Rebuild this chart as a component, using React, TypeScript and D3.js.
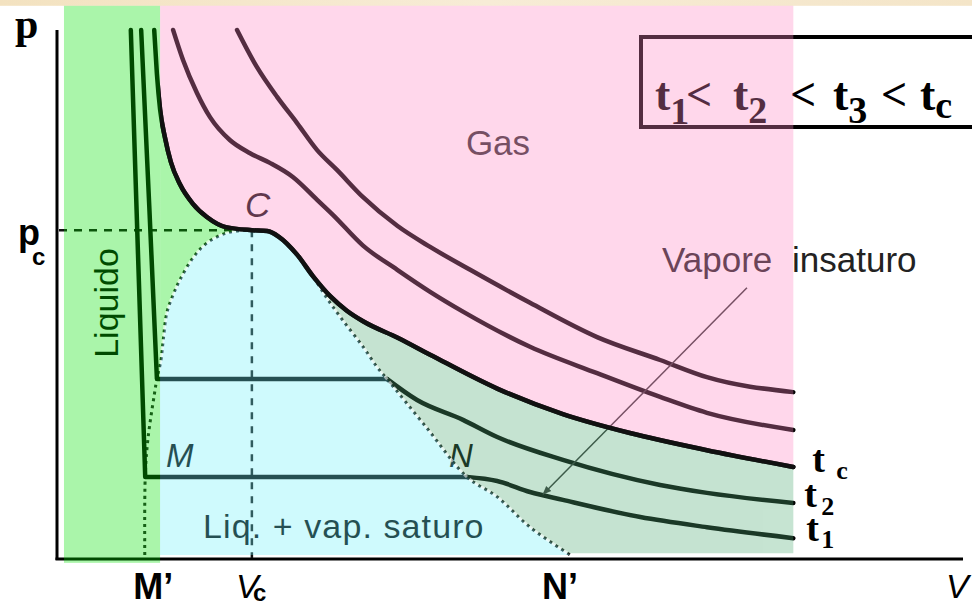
import React from "react";
import * as d3 from "d3";

type Pt = [number, number];

// Andrews isotherms on the p–V plane (v: volume, p: pressure, arbitrary units)
const t1Liquid: Pt[] = [[1.64, 12.0], [1.8, 6.9], [1.96, 1.84]];
const t1Plateau: Pt[] = [[1.96, 1.84], [9.11, 1.84]];
const t1Vapor: Pt[] = [[9.11, 1.84], [9.78, 1.75], [10.51, 1.5], [11.24, 1.32], [12.96, 0.93], [14.44, 0.7], [16.36, 0.45]];

const t2Liquid: Pt[] = [[1.87, 12.0], [2.05, 8.0], [2.22, 4.07]];
const t2Plateau: Pt[] = [[2.22, 4.07], [7.33, 4.07]];
const t2Vapor: Pt[] = [[7.33, 4.07], [8.0, 3.59], [9.02, 3.14], [9.78, 2.75], [11.24, 2.23], [13.4, 1.66], [14.44, 1.48], [16.36, 1.25]];

const tcCurve: Pt[] = [
  [2.16, 12.0], [2.22, 11.0], [2.29, 10.2], [2.4, 9.55], [2.53, 9.0], [2.73, 8.5], [3.02, 8.05],
  [3.33, 7.75], [3.75, 7.52], [4.33, 7.45], [4.67, 7.43], [4.93, 7.3], [5.33, 6.9], [5.69, 6.4],
  [6.07, 5.95], [6.44, 5.62], [6.8, 5.38], [7.58, 5.0], [8.29, 4.62], [9.78, 3.85], [11.24, 3.27],
  [12.73, 2.84], [14.44, 2.45], [16.36, 2.07],
];

const t3Curve: Pt[] = [
  [2.58, 12.0], [2.8, 11.32], [3.11, 10.57], [3.4, 10.02], [3.84, 9.5], [4.29, 9.2], [4.73, 8.98],
  [5.24, 8.66], [5.78, 8.14], [6.13, 7.8], [6.8, 7.1], [7.56, 6.55], [8.29, 6.05], [9.02, 5.6],
  [10.51, 4.8], [12.0, 4.2], [13.4, 3.66], [14.44, 3.3], [16.36, 2.91],
];

const t4Curve: Pt[] = [
  [4.0, 12.0], [4.44, 11.16], [4.89, 10.48], [5.33, 9.89], [5.78, 9.27], [6.22, 8.82], [6.8, 8.2],
  [7.56, 7.55], [8.29, 7.07], [9.18, 6.55], [10.51, 5.8], [12.0, 5.02], [13.4, 4.5], [14.44, 4.11],
  [16.36, 3.77],
];

// saturation dome: liquid branch (bottom → C) and vapour branch (C → bottom)
const domeLeft: Pt[] = [
  [1.95, 0.07], [1.96, 1.84], [2.02, 2.7], [2.16, 3.7], [2.22, 4.07], [2.31, 4.5], [2.36, 4.95],
  [2.44, 5.57], [2.58, 5.98], [2.73, 6.32], [3.02, 6.82], [3.33, 7.16], [3.78, 7.39],
];
const criticalPoint: Pt = [4.33, 7.45];
const domeRight: Pt[] = [
  [4.67, 7.43], [4.93, 7.3], [5.33, 6.9], [5.69, 6.4], [6.0, 5.9], [6.35, 5.4], [6.8, 4.8],
  [7.11, 4.34], [7.33, 4.07], [8.22, 2.95], [9.11, 1.84], [9.78, 1.39], [10.51, 0.7], [11.4, 0.07],
];

// region limits
const LIQ_LEFT = 0.155;
const LIQ_RIGHT = 2.29;
const TOP_P = 12.55;
const FLOOR_P = 0.07;
const GAS_FLOOR_P = 0.11;

const arrowFrom: Pt = [15.33, 6.14];
const arrowTo: Pt = [10.8, 1.45];

const W = 972;
const H = 608;
const SANS = "'Liberation Sans', Arial, Helvetica, sans-serif";
const SERIF = "'Liberation Serif', 'Times New Roman', Times, serif";

export default function App() {
  const x = d3.scaleLinear().domain([0, 20.13]).range([57, 963]);
  const y = d3.scaleLinear().domain([0, 12]).range([558, 30]);

  const straight = d3.line<Pt>().x((d) => x(d[0])).y((d) => y(d[1]));
  const smooth = d3.line<Pt>().x((d) => x(d[0])).y((d) => y(d[1])).curve(d3.curveMonotoneX);
  const domeGen = d3.line<Pt>().x((d) => x(d[0])).y((d) => y(d[1])).curve(d3.curveCatmullRom.alpha(0.5));

  const areaTop = d3
    .area<Pt>()
    .x((d) => x(d[0]))
    .y0(y(TOP_P))
    .y1((d) => y(d[1]))
    .curve(d3.curveMonotoneX);
  const areaBelow = (floor: number) =>
    d3
      .area<Pt>()
      .x((d) => x(d[0]))
      .y0((d) => y(d[1]))
      .y1(y(floor))
      .curve(d3.curveMonotoneX);

  const gasZone = areaTop(tcCurve.filter((d) => d[0] >= LIQ_RIGHT)) || "";
  const liquidWedge = areaBelow(FLOOR_P)(tcCurve.filter((d) => d[0] >= LIQ_RIGHT && d[0] <= criticalPoint[0])) || "";
  const vaporZone = areaBelow(GAS_FLOOR_P)(tcCurve.filter((d) => d[0] >= criticalPoint[0])) || "";
  const domePts: Pt[] = [...domeLeft, criticalPoint, ...domeRight];
  const domePath = domeGen(domePts) || "";

  const x0 = x(0);
  const y0 = y(0);
  const xc = x(criticalPoint[0]);
  const yc = y(criticalPoint[1]);

  const endLabel = (curve: Pt[]) => {
    const e = curve[curve.length - 1];
    return { ex: x(e[0]), ey: y(e[1]) };
  };
  const lc = endLabel(tcCurve);
  const l2 = endLabel(t2Vapor);
  const l1 = endLabel(t1Vapor);

  const iso = {
    fill: "none",
    stroke: "#000",
    strokeWidth: 4.5,
    strokeLinejoin: "round" as const,
    strokeLinecap: "round" as const,
  };

  return (
    <svg
      width={W}
      height={H}
      viewBox={`0 0 ${W} ${H}`}
      style={{ position: "fixed", left: 0, top: 0, display: "block", background: "#fff" }}
    >
      <defs>
        <clipPath id="rightOfLiquid">
          <rect x={x(LIQ_RIGHT)} y={0} width={W} height={H} />
        </clipPath>
        <marker id="arrowHead" viewBox="0 0 10 10" refX="9" refY="5" markerWidth="6" markerHeight="6" orient="auto">
          <path d="M0,1 L10,5 L0,9 z" fill="#333" />
        </marker>
        <linearGradient id="band" x1="0" x2="1" y1="0" y2="0">
          <stop offset="0" stopColor="#f3e2c0" />
          <stop offset="0.5" stopColor="#f7ecd6" />
          <stop offset="1" stopColor="#f4e5c8" />
        </linearGradient>
      </defs>

      <rect x={0} y={0} width={W} height={H} fill="#fff" />
      <rect x={0} y={0} width={W} height={y(TOP_P)} fill="url(#band)" />

      {/* axes */}
      <line x1={x0} y1={y(12)} x2={x0} y2={y0 + 2} stroke="#000" strokeWidth={3} />
      <line x1={x0 - 1.5} y1={y0 + 1} x2={x(20.13)} y2={y0 + 1} stroke="#000" strokeWidth={3} />

      {/* critical point guides */}
      <line x1={x0 + 2} y1={yc} x2={xc} y2={yc} stroke="#111" strokeWidth={2.5} strokeDasharray="8 7" />
      <line x1={xc} y1={yc} x2={xc} y2={y0} stroke="#111" strokeWidth={2.5} strokeDasharray="7 7" />

      {/* saturation dome */}
      <path d={domePath} fill="none" stroke="#222" strokeWidth={3} strokeDasharray="3 4" />

      {/* isotherms */}
      <path d={straight([...t1Liquid, ...t1Plateau.slice(1)]) || ""} {...iso} />
      <path d={smooth(t1Vapor) || ""} {...iso} />
      <path d={straight([...t2Liquid, ...t2Plateau.slice(1)]) || ""} {...iso} />
      <path d={smooth(t2Vapor) || ""} {...iso} />
      <path d={smooth(tcCurve) || ""} {...iso} />
      <path d={smooth(t3Curve) || ""} {...iso} />
      <path d={smooth(t4Curve) || ""} {...iso} />

      {/* arrow to the unsaturated vapour isotherm */}
      <line
        x1={x(arrowFrom[0])}
        y1={y(arrowFrom[1])}
        x2={x(arrowTo[0])}
        y2={y(arrowTo[1])}
        stroke="#333"
        strokeWidth={1.5}
        markerEnd="url(#arrowHead)"
      />

      {/* region names */}
      <text x={498} y={155} fontFamily={SANS} fontSize={35} fill="#333" textAnchor="middle">Gas</text>
      <text x={xc - 7} y={yc - 13} fontFamily={SANS} fontSize={35} fontStyle="italic" fill="#111">C</text>
      <text x={662} y={272} fontFamily={SANS} fontSize={35} fill="#222">Vapore</text>
      <text x={792} y={272} fontFamily={SANS} fontSize={35} fill="#222">insaturo</text>
      <text x={166} y={y(t1Plateau[0][1]) - 10} fontFamily={SANS} fontSize={33} fontStyle="italic" fill="#000">M</text>
      <text x={449} y={y(t1Plateau[0][1]) - 10} fontFamily={SANS} fontSize={33} fontStyle="italic" fill="#000">N</text>
      <text x={203} y={538} fontFamily={SANS} fontSize={34} letterSpacing={1.1} fill="#000">Liq. + vap. saturo</text>
      <text
        transform={`translate(118,303) rotate(-90)`}
        fontFamily={SANS}
        fontSize={34}
        fill="#000"
        textAnchor="middle"
      >
        Liquido
      </text>

      {/* temperature ordering box */}
      <rect x={641} y={37} width={400} height={90} fill="none" stroke="#000" strokeWidth={4} />
      <text fontFamily={SERIF} fontWeight="bold" fill="#000">
        <tspan x={655} y={110} fontSize={46}>t</tspan>
        <tspan y={124} fontSize={38}>1</tspan>
        <tspan x={686} y={110} fontSize={46}>&lt;</tspan>
        <tspan x={733} y={110} fontSize={46}>t</tspan>
        <tspan y={123} fontSize={38}>2</tspan>
        <tspan x={790} y={110} fontSize={46}>&lt;</tspan>
        <tspan x={833} y={110} fontSize={46}>t</tspan>
        <tspan y={123} fontSize={38}>3</tspan>
        <tspan x={881} y={110} fontSize={46}>&lt;</tspan>
        <tspan x={920} y={110} fontSize={46}>t</tspan>
        <tspan y={118} fontSize={38}>c</tspan>
      </text>

      {/* translucent phase regions */}
      <g opacity={0.33}>
        <path d={gasZone} fill="#ff89c5" />
        <path d={liquidWedge} fill="#00e100" />
        <path d={vaporZone} fill="#52ad77" />
        <path d={domePath + "Z"} fill="#71f0f9" />
        <rect
          x={x(LIQ_LEFT)}
          y={y(TOP_P)}
          width={x(LIQ_RIGHT) - x(LIQ_LEFT)}
          height={y(-0.11) - y(TOP_P)}
          fill="#00e100"
        />
      </g>

      {/* light gaps between the dome dots, and the critical isotherm over the regions */}
      <g clipPath="url(#rightOfLiquid)">
        <path d={domePath} fill="none" stroke="#fff" strokeOpacity={0.55} strokeWidth={3} strokeDasharray="4 3" strokeDashoffset={4} />
        <path d={smooth(tcCurve) || ""} {...iso} stroke="#111" />
      </g>

      {/* axis labels */}
      <text x={15} y={38} fontFamily={SERIF} fontWeight="bold" fontSize={42} fill="#000">p</text>
      <text fontFamily={SANS} fontWeight="bold" fill="#000">
        <tspan x={18} y={yc + 15} fontSize={36}>p</tspan>
        <tspan x={32} y={yc + 35} fontSize={24}>c</tspan>
      </text>
      <text x={x(t1Liquid[2][0]) - 12} y={599} fontFamily={SANS} fontWeight="bold" fontSize={36} fill="#000">M’</text>
      <text x={x(domeRight[domeRight.length - 1][0]) - 28} y={599} fontFamily={SANS} fontWeight="bold" fontSize={36} fill="#000">N’</text>
      <text fill="#000">
        <tspan x={xc - 16} y={598} fontFamily={SANS} fontStyle="italic" fontSize={34}>V</tspan>
        <tspan x={xc + 1} y={601} fontFamily={SANS} fontWeight="bold" fontSize={24}>c</tspan>
      </text>
      <text x={946} y={598} fontFamily={SANS} fontStyle="italic" fontSize={34} fill="#000">V</text>

      {/* isotherm tags */}
      <text fontFamily={SERIF} fontWeight="bold" fill="#000">
        <tspan x={lc.ex + 19} y={lc.ey + 5} fontSize={38}>t</tspan>
        <tspan x={lc.ex + 43} y={lc.ey + 12} fontSize={26}>c</tspan>
        <tspan x={l2.ex + 11} y={l2.ey + 4} fontSize={38}>t</tspan>
        <tspan x={l2.ex + 28} y={l2.ey + 12} fontSize={26}>2</tspan>
        <tspan x={l1.ex + 13} y={l1.ey + 3} fontSize={38}>t</tspan>
        <tspan x={l1.ex + 28} y={l1.ey + 10} fontSize={26}>1</tspan>
      </text>
    </svg>
  );
}
